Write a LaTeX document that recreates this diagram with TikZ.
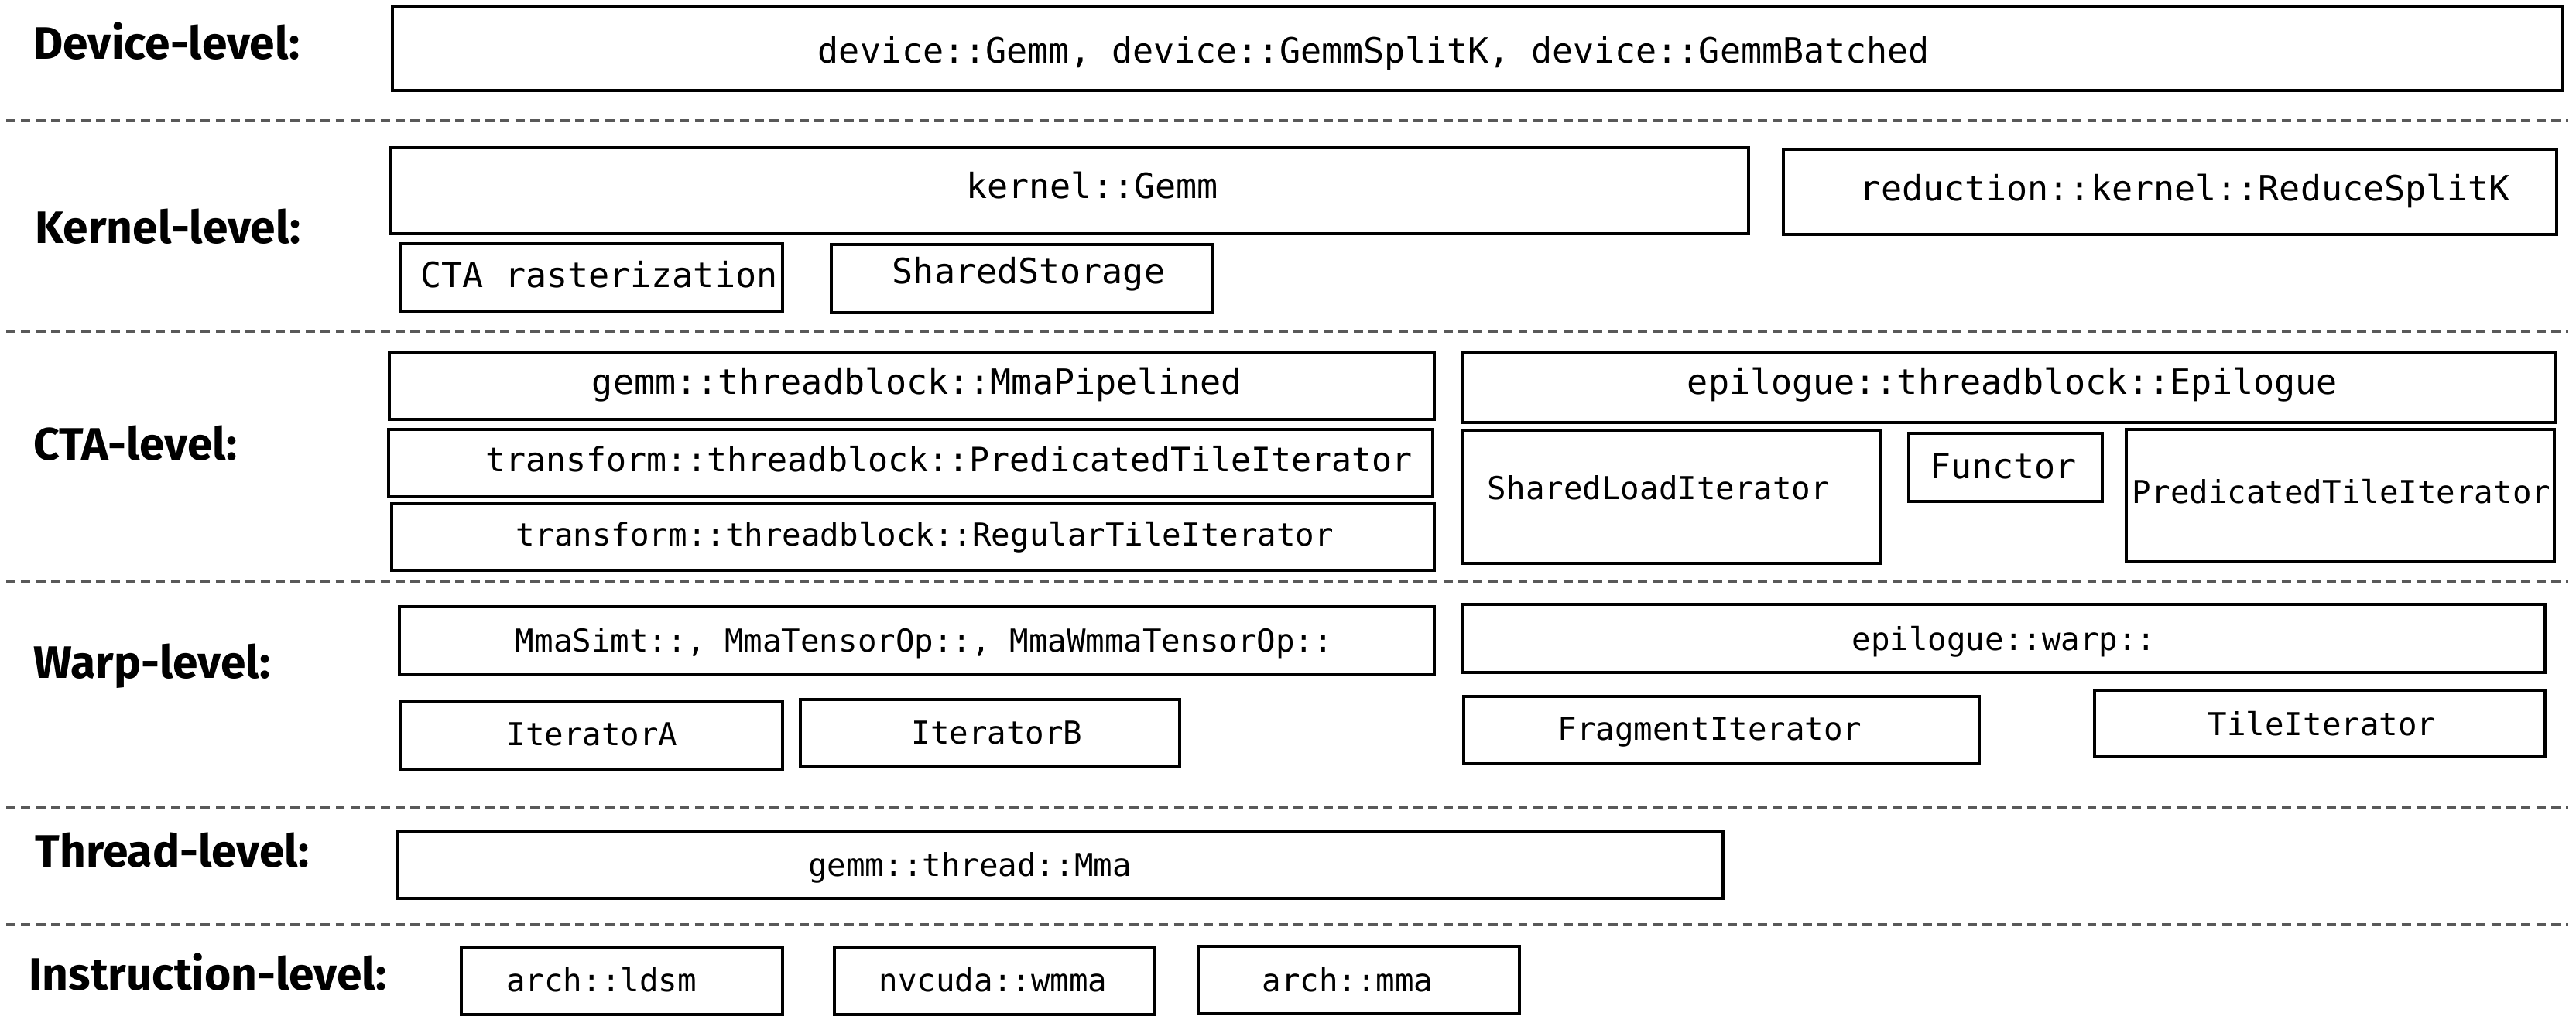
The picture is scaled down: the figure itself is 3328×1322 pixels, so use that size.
\documentclass[tikz,border=0pt]{standalone}
\usepackage{fontspec}
\setmainfont{Fira Sans}
\newfontfamily\headfont{Fira Sans}
\newfontfamily\codefont{DejaVu Sans Mono}

\begin{document}
\begin{tikzpicture}[x=0.01cm, y=-0.01cm,
	box/.style={draw, line width=1pt},
	sep/.style={draw=black!65, line width=1.1pt, dash pattern=on 3.4pt off 2.1pt},
	level/.style={font=\headfont\bfseries\fontsize{16.7pt}{20pt}\selectfont, inner sep=0pt, anchor=base west},
	code/.style={font=\codefont\fontsize{12.8pt}{15pt}\selectfont, inner sep=0pt, anchor=base},
	small/.style={font=\codefont\fontsize{11.6pt}{14pt}\selectfont}]
	
	\useasboundingbox (0,0) rectangle (3328,1322);
	
	% Level names
	\node[level] (devlvl)  at (43,77)    {Device-level:};
	\node[level] (kerlvl)  at (45,315)   {Kernel-level:};
	\node[level] (ctalvl)  at (43,594)   {CTA-level:};
	\node[level] (warplvl) at (43,876)   {Warp-level:};
	\node[level] (thrlvl)  at (45,1120)  {Thread-level:};
	\node[level] (inslvl)  at (37,1279)  {Instruction-level:};
	
	% Dashed lines between levels
	\draw[sep] (8,156) -- (3318,156);
	\draw[sep] (8,428) -- (3318,428);
	\draw[sep] (8,752) -- (3318,752);
	\draw[sep] (8,1043) -- (3318,1043);
	\draw[sep] (8,1195) -- (3318,1195);
	
	% Device level
	\draw[box] (507,8) rectangle (3310,117);
	\node[code] (dev) at (1775,82) {device::Gemm, device::GemmSplitK, device::GemmBatched};
	
	% Kernel level
	\draw[box] (505,191) rectangle (2259,302);
	\node[code] (kgemm) at (1411,257) {kernel::Gemm};
	\draw[box] (2304,193) rectangle (3303,303);
	\node[code] (reduce) at (2823,260) {reduction::kernel::ReduceSplitK};
	\draw[box] (518,315) rectangle (1011,403);
	\node[code] (raster) at (774,372) {CTA rasterization};
	\draw[box] (1074,316) rectangle (1566,404);
	\node[code] (smem) at (1329,367) {SharedStorage};
	
	% CTA level
	\draw[box] (503,455) rectangle (1853,542);
	\node[code] (mmapipe) at (1185,510) {gemm::threadblock::MmaPipelined};
	\draw[box] (502,555) rectangle (1851,642);
	\node[code, font=\codefont\fontsize{12.3pt}{15pt}\selectfont] (predit) at (1226,610) {transform::threadblock::PredicatedTileIterator};
	\draw[box] (506,651) rectangle (1853,737);
	\node[code, small] (regit) at (1195,705) {transform::threadblock::RegularTileIterator};
	\draw[box] (1890,456) rectangle (3301,546);
	\node[code] (epi) at (2600,510) {epilogue::threadblock::Epilogue};
	\draw[box] (1890,556) rectangle (2429,728);
	\node[code, small] (sload) at (2143,646) {SharedLoadIterator};
	\draw[box] (2466,560) rectangle (2716,648);
	\node[code] (functor) at (2588,619) {Functor};
	\draw[box] (2747,555) rectangle (3300,726);
	\node[code, small] (epipred) at (3025,650) {PredicatedTileIterator};
	
	% Warp level
	\draw[box] (516,784) rectangle (1853,872);
	\node[code, small] (wmma) at (1194,842) {MmaSimt::, MmaTensorOp::, MmaWmmaTensorOp::};
	\draw[box] (1889,781) rectangle (3288,869);
	\node[code, small] (epiwarp) at (2589,840) {epilogue::warp::};
	\draw[box] (518,907) rectangle (1011,994);
	\node[code, small] (itA) at (765,963) {IteratorA};
	\draw[box] (1034,904) rectangle (1524,991);
	\node[code, small] (itB) at (1288,961) {IteratorB};
	\draw[box] (1891,900) rectangle (2557,987);
	\node[code, small] (fragit) at (2209,956) {FragmentIterator};
	\draw[box] (2706,892) rectangle (3288,978);
	\node[code, small] (tileit) at (3000,950) {TileIterator};
	
	% Thread level
	\draw[box] (514,1074) rectangle (2226,1161);
	\node[code, small] (tmma) at (1253,1132) {gemm::thread::Mma};
	
	% Instruction level
	\draw[box] (596,1225) rectangle (1011,1311);
	\node[code, small] (ldsm) at (777,1281) {arch::ldsm};
	\draw[box] (1078,1225) rectangle (1492,1311);
	\node[code, small] (wmmains) at (1283,1281) {nvcuda::wmma};
	\draw[box] (1548,1223) rectangle (1963,1310);
	\node[code, small] (archmma) at (1741,1281) {arch::mma};
	
\end{tikzpicture}
\end{document}
